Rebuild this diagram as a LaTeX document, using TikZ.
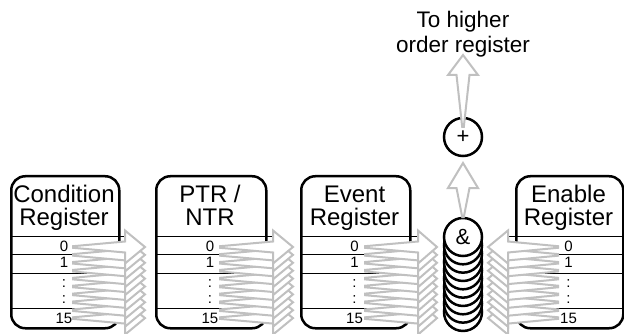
\documentclass[tikz,border=0pt]{standalone}
\usepackage{fontspec}
\setmainfont{Liberation Sans}
\definecolor{arrowgray}{RGB}{192,192,192}
\newcommand\harrowshape[4]{% tail x, head base x, tip x, y
  \filldraw[garrow] (#1,#4-0.8) -- (#2,#4-5.5) -- (#2,#4-16.5) -- (#3,#4) -- (#2,#4+16.5) -- (#2,#4+5.5) -- (#1,#4+0.8) -- cycle;}
\newcommand\varrowshape[4]{% x, tail y, head base y, tip y
  \filldraw[garrow] (#1-0.8,#2) -- (#1-6.5,#3) -- (#1-15,#3) -- (#1,#4) -- (#1+15,#3) -- (#1+6.5,#3) -- (#1+0.8,#2) -- cycle;}
\newcommand\regdraw[7]{% name, left, right, line from, line to, header1, header2
  \pgfmathsetmacro\cx{(#2+#3)/2}
  \node[regbox, minimum width={#3-#2}, minimum height=152, anchor=north west] (#1) at (#2,175) {};
  \foreach \ly in {236,254,273,308} {\draw[rowline] (#4,\ly) -- (#5,\ly);}
  \node[hdr] (#1-h1) at (\cx,203) {#6};
  \node[hdr] (#1-h2) at (\cx,225) {#7};
  \node[bit] (#1-b0) at (\cx,251) {0};
  \node[bit] (#1-b1) at (\cx,267) {1};
  \node[bit] (#1-d1) at (\cx,287) {:};
  \node[bit] (#1-d2) at (\cx,303) {:};
  \node[bit] (#1-b15) at (\cx,323) {15};
}
\begin{document}
\begin{tikzpicture}[x=1pt,y=-1pt,
  regbox/.style={draw=black, line width=2.5pt, rounded corners=14pt, inner sep=0pt},
  rowline/.style={draw=black, line width=1pt},
  hdr/.style={anchor=base, inner sep=0pt, font=\fontsize{24}{24}\selectfont},
  bit/.style={anchor=base, inner sep=0pt, font=\fontsize{15}{15}\selectfont},
  toplbl/.style={anchor=base, inner sep=0pt, font=\fontsize{22.5}{22.5}\selectfont},
  garrow/.style={draw=arrowgray, fill=white, line width=2pt, line join=miter},
  gatecirc/.style={draw=black, fill=white, line width=2.5pt},
  gate/.style={circle, draw=black, line width=2.5pt, fill=white, minimum size=38pt, inner sep=0pt, font=\fontsize{22}{22}\selectfont}
]
\useasboundingbox (0,0) rectangle (624,334);

\regdraw{cond}{10}{118}{10}{125}{Condition}{Register}
\regdraw{ptr}{155}{265}{155}{273}{PTR /}{NTR}
\regdraw{event}{300}{409}{300}{418}{Event}{Register}
\regdraw{enable}{515}{622}{508}{622}{Enable}{Register}

\foreach \k in {9,8,...,0} {
  \pgfmathsetmacro\yy{247+7.9*\k}
  \harrowshape{73}{125}{145}{\yy}
  \harrowshape{220}{273}{293}{\yy}
  \harrowshape{365}{418}{437}{\yy}
  \harrowshape{558}{508}{488}{\yy}
}

\foreach \k in {9,8,...,1} {
  \draw[gatecirc] (463,237+8.33*\k) circle[radius=19];
}
\node[gate] (and) at (463,237) {\&};
\node[gate] (or) at (463,137) {+};

\varrowshape{463}{217}{188}{163}
\varrowshape{463}{127}{75}{55}

\node[toplbl] (lbl1) at (463,28) {To higher};
\node[toplbl] (lbl2) at (463,53) {order register};
\end{tikzpicture}
\end{document}
